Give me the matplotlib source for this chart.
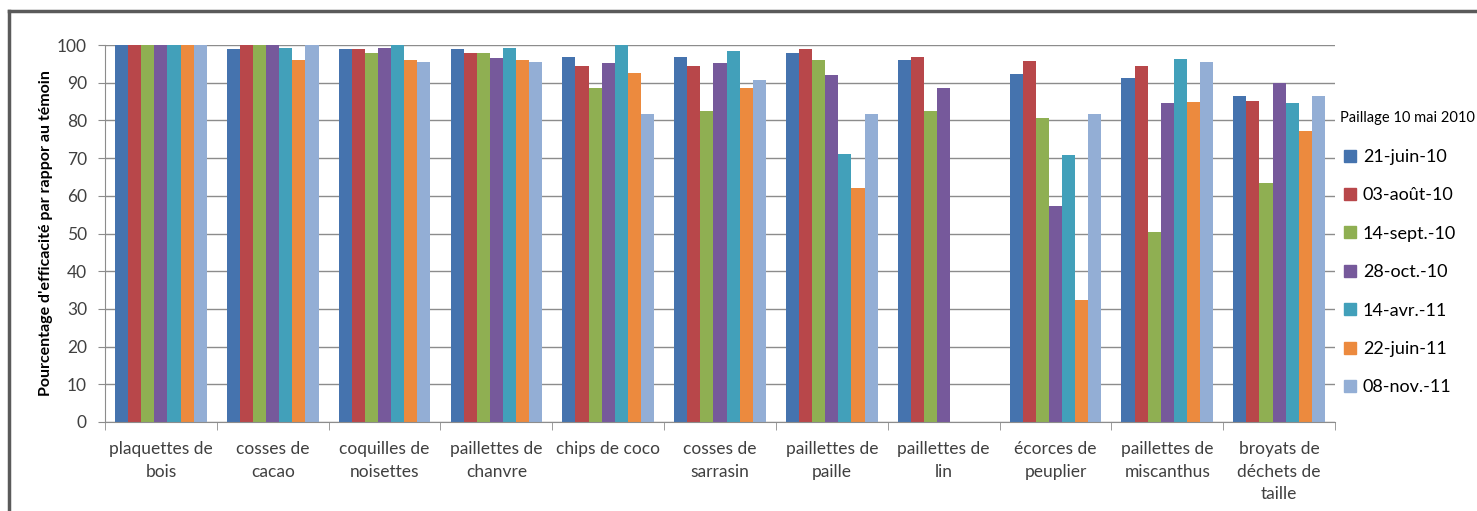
import numpy as np
import matplotlib.pyplot as plt
from matplotlib.lines import Line2D

plt.rcParams['font.family'] = ['Lato', 'DejaVu Sans']

categories = ["plaquettes de\nbois", "cosses de\ncacao", "coquilles de\nnoisettes",
              "paillettes de\nchanvre", "chips de coco", "cosses de\nsarrasin",
              "paillettes de\npaille", "paillettes de\nlin", "écorces de\npeuplier",
              "paillettes de\nmiscanthus", "broyats de\ndéchets de\ntaille"]

dates = ["21-juin-10", "03-août-10", "14-sept.-10", "28-oct.-10",
         "14-avr.-11", "22-juin-11", "08-nov.-11"]

juin_10 = [100, 98.9, 98.9, 98.9, 96.9, 96.9, 98.0, 96.0, 92.4, 91.3, 86.6]
aout_10 = [100, 100, 98.9, 98.0, 94.5, 94.5, 98.9, 96.7, 95.8, 94.5, 85.1]
sept_10 = [100, 100, 98.0, 98.0, 88.5, 82.6, 96.0, 82.6, 80.7, 50.4, 63.5]
oct_10 = [100, 100, 99.1, 96.6, 95.1, 95.1, 92.0, 88.5, 57.2, 84.5, 90.0]
avr_11 = [100, 99.1, 100, 99.1, 100, 98.5, 71.2, np.nan, 70.7, 96.3, 84.5]
juin_11 = [100, 96.0, 96.0, 96.0, 92.5, 88.7, 62.2, np.nan, 32.3, 84.8, 77.3]
nov_11 = [100, 100, 95.5, 95.5, 81.6, 90.7, 81.6, np.nan, 81.6, 95.4, 86.4]

series = [juin_10, aout_10, sept_10, oct_10, avr_11, juin_11, nov_11]
colors = ["#4573AE", "#B8474A", "#8FAF52", "#76599B", "#42A0BA", "#EC8A3E", "#93AED5"]

fig = plt.figure(figsize=(14.77, 5.11), dpi=100)
ax = fig.add_axes([105 / 1477, 1 - 422 / 511, (1335 - 105) / 1477, (422 - 45) / 511])

x = np.arange(len(categories))
w = 0.117
for i, (vals, c, lab) in enumerate(zip(series, colors, dates)):
    ax.bar(x + (i - 3) * w, vals, width=w, color=c, label=lab, zorder=3)

ax.set_xlim(-0.5, len(categories) - 0.5)
ax.set_ylim(0, 100)
ax.set_yticks(range(0, 101, 10))
ax.yaxis.grid(True, color="#8c8c8c", lw=1, zorder=0)
ax.set_axisbelow(True)

for s in ["top", "right"]:
    ax.spines[s].set_visible(False)
for s in ["left", "bottom"]:
    ax.spines[s].set_color("#8c8c8c")
    ax.spines[s].set_zorder(4)

ax.set_xticks(x)
ax.set_xticklabels(categories, fontsize=12.5, color="#404040", linespacing=1.5)
ax.tick_params(axis="x", length=0, pad=14)
ax.set_xticks(np.arange(-0.5, len(categories)), minor=True)
ax.tick_params(axis="x", which="minor", length=6, color="#8c8c8c")
ax.tick_params(axis="y", length=5, color="#8c8c8c", labelsize=12.5, labelcolor="#404040", pad=8)

ax.set_ylabel("Pourcentage d'efficacité par rappor au témoin", fontsize=11.5,
              fontweight="bold", labelpad=3)

fig.text(1340 / 1477, 1 - 118 / 511, "Paillage 10 mai 2010", fontsize=10.5,
         va="center", ha="left")
handles = [Line2D([], [], marker="s", ls="none", markersize=8.5, color=c) for c in colors]
fig.legend(handles, dates, loc="upper left", bbox_to_anchor=(1343 / 1477, 1 - 149 / 511),
           frameon=False, fontsize=13, handlelength=0.8, handletextpad=0.3,
           labelspacing=1.24, borderaxespad=0, borderpad=0)

# frame lines top and left
fig.add_artist(Line2D([9 / 1477, 1], [1 - 11 / 511, 1 - 11 / 511], color="#5a5a5a", lw=2.5,
                      transform=fig.transFigure))
fig.add_artist(Line2D([9 / 1477, 9 / 1477], [0, 1 - 11 / 511], color="#5a5a5a", lw=2.5,
                      transform=fig.transFigure))

fig.savefig("out.png", dpi=100)
